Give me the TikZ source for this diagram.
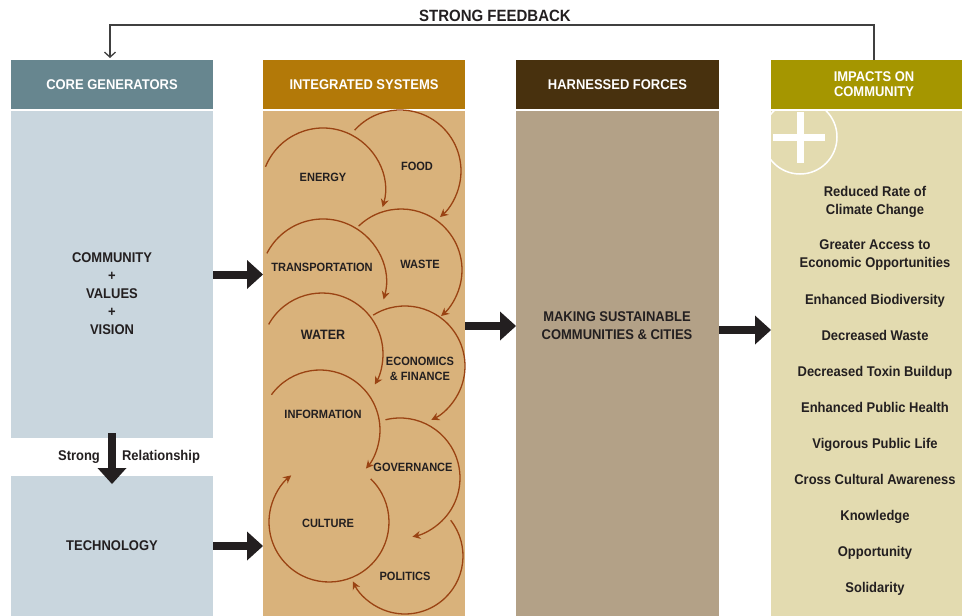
\documentclass[tikz,border=0pt]{standalone}
\usepackage{fontspec}
\setmainfont[FakeStretch=0.92]{Liberation Sans}
\usepackage{tikz}
\usetikzlibrary{arrows.meta}
\definecolor{coredark}{HTML}{67868F}
\definecolor{corelight}{HTML}{C9D6DE}
\definecolor{sysdark}{HTML}{B37908}
\definecolor{syslight}{HTML}{D9B27B}
\definecolor{forcedark}{HTML}{48310E}
\definecolor{forcelight}{HTML}{B3A187}
\definecolor{impactdark}{HTML}{A59600}
\definecolor{impactlight}{HTML}{E3DBB0}
\definecolor{inkdark}{HTML}{231F20}
\definecolor{cyclebrown}{HTML}{9A4313}
\tikzstyle{colhead}=[inner sep=0, outer sep=0, minimum height=49pt, text=white, align=center,
                     text depth=0pt, font=\bfseries\fontsize{14.1}{15}\selectfont]
\tikzstyle{colbody}=[inner sep=0, outer sep=0]
\tikzstyle{bodytext}=[inner sep=0, text=inkdark, align=center, text depth=0pt,
                      font=\bfseries\fontsize{14.1}{18}\selectfont]
\tikzstyle{cyclelabel}=[inner sep=0, text=inkdark, align=center, text depth=0pt,
                        font=\bfseries\fontsize{12}{15}\selectfont]
\tikzstyle{cyclearc}=[draw=cyclebrown, line width=1.3pt, -{Stealth[length=8pt, width=8pt]}]
\tikzstyle{blockarrow}=[draw=inkdark, line width=8pt, -{Triangle[length=16pt, width=29pt, line width=0pt]}]
\tikzstyle{feedback}=[draw=black!75, line width=1.3pt, -{Straight Barb[length=5pt, width=11pt]}]
\begin{document}
\begin{tikzpicture}[x=1pt, y=-1pt]
    \useasboundingbox (0,0) rectangle (962,616);
    \clip (0,0) rectangle (962,616);
    % column heads
    \node[colhead, fill=coredark,   minimum width=202pt] (corehead)  at (112,84.5)   {CORE GENERATORS};
    \node[colhead, fill=sysdark,    minimum width=202pt] (syshead)   at (364,84.5)   {INTEGRATED SYSTEMS};
    \node[colhead, fill=forcedark,  minimum width=203pt] (forcehead) at (617.5,84.5) {HARNESSED FORCES};
    \node[colhead, fill=impactdark, minimum width=206pt] (imphead)   at (874,84.5)   {IMPACTS ON\\COMMUNITY};
    % column bodies
    \node[colbody, fill=corelight,   minimum width=202pt, minimum height=327pt] (corebody)  at (112,274.5)   {};
    \node[colbody, fill=corelight,   minimum width=202pt, minimum height=140pt] (techbody)  at (112,546)     {};
    \node[colbody, fill=syslight,    minimum width=202pt, minimum height=505pt] (sysbody)   at (364,363.5)   {};
    \node[colbody, fill=forcelight,  minimum width=203pt, minimum height=505pt] (forcebody) at (617.5,363.5) {};
    \node[colbody, fill=impactlight, minimum width=206pt, minimum height=505pt] (impbody)   at (874,363.5)   {};
    % the plus sign
    \begin{scope}
        \clip (impbody.north west) rectangle (impbody.south east);
        \draw[white, line width=1.5pt] (800,137) circle[radius=37];
        \fill[white] (796.5,112) rectangle (803.5,163);
        \fill[white] (773,133.5) rectangle (825,140.5);
    \end{scope}
    % texts
    \node[bodytext] (cvv)     at (112,294) {COMMUNITY\\+\\VALUES\\+\\VISION};
    \node[bodytext] (tech)    at (112,546) {TECHNOLOGY};
    \node[bodytext, anchor=base] (strong)  at (79,460)  {Strong};
    \node[bodytext, anchor=base] (relship) at (161,460) {Relationship};
    \node[bodytext] (making)  at (617,326) {MAKING SUSTAINABLE\\COMMUNITIES \& CITIES};
    \node[bodytext] (imp1)  at (875,200) {Reduced Rate of\\Climate Change};
    \node[bodytext] (imp2)  at (875,254) {Greater Access to\\Economic Opportunities};
    \node[bodytext] (imp3)  at (875,299) {Enhanced Biodiversity};
    \node[bodytext] (imp4)  at (875,335) {Decreased Waste};
    \node[bodytext] (imp5)  at (875,371) {Decreased Toxin Buildup};
    \node[bodytext] (imp6)  at (875,407) {Enhanced Public Health};
    \node[bodytext] (imp7)  at (875,443) {Vigorous Public Life};
    \node[bodytext] (imp8)  at (875,479) {Cross Cultural Awareness};
    \node[bodytext] (imp9)  at (875,515) {Knowledge};
    \node[bodytext] (imp10) at (875,551) {Opportunity};
    \node[bodytext] (imp11) at (875,587) {Solidarity};
    % integrated systems cycles
    \coordinate (energyc) at (323,190);
    \coordinate (foodc)   at (400,171);
    \coordinate (transc)  at (323,282);
    \coordinate (wastec)  at (401,270);
    \coordinate (waterc)  at (322,354);
    \coordinate (econc)   at (405,366);
    \coordinate (infoc)   at (320,430);
    \coordinate (govc)    at (400,478);
    \coordinate (cultc)   at (329,522);
    \coordinate (polc)    at (405,556);
    \draw[cyclearc] (energyc) ++(-158:62) arc[start angle=-158, end angle=16,  radius=62];
    \draw[cyclearc] (foodc)   ++(-138:61) arc[start angle=-138, end angle=49,  radius=61];
    \draw[cyclearc] (transc)  ++(-153:63) arc[start angle=-153, end angle=16,  radius=63];
    \draw[cyclearc] (wastec)  ++(-134:61) arc[start angle=-134, end angle=49,  radius=61];
    \draw[cyclearc] (waterc)  ++(-151:61) arc[start angle=-151, end angle=30,  radius=61];
    \draw[cyclearc] (econc)   ++(-122:60) arc[start angle=-122, end angle=64,  radius=60];
    \draw[cyclearc] (infoc)   ++(-144:60) arc[start angle=-144, end angle=40,  radius=60];
    \draw[cyclearc] (govc)    ++(-104:60) arc[start angle=-104, end angle=78,  radius=60];
    \draw[cyclearc] (cultc)   ++(-46:60)  arc[start angle=-46,  end angle=231, radius=60];
    \draw[cyclearc] (polc)    ++(-38:58)  arc[start angle=-38,  end angle=154, radius=58];
    \node[cyclelabel] (energy) at (323,177) {ENERGY};
    \node[cyclelabel] (food)   at (417,166) {FOOD};
    \node[cyclelabel] (trans)  at (322,267) {TRANSPORTATION};
    \node[cyclelabel] (waste)  at (420,264) {WASTE};
    \node[cyclelabel, font=\bfseries\fontsize{13.6}{15}\selectfont] (water) at (323,335) {WATER};
    \node[cyclelabel] (econ)   at (420,369) {ECONOMICS\\\& FINANCE};
    \node[cyclelabel] (info)   at (323,414) {INFORMATION};
    \node[cyclelabel] (gov)    at (413,467) {GOVERNANCE};
    \node[cyclelabel] (cult)   at (328,523) {CULTURE};
    \node[cyclelabel] (pol)    at (405,576) {POLITICS};
    % arrows between the columns
    \draw[blockarrow] (corebody.east) -- (corebody.east -| sysbody.west);
    \draw[blockarrow] (techbody.east) -- (techbody.east -| sysbody.west);
    \draw[blockarrow] (sysbody.east |- making.center) -- (making.center -| forcebody.west);
    \draw[blockarrow] ([yshift=-4pt]forcebody.east |- making.center) -- ([yshift=-4pt]making.center -| impbody.west);
    \draw[blockarrow] ([yshift=5pt]corebody.south) -- ([yshift=-8pt]techbody.north);
    % feedback loop
    \node[inner sep=0, text=inkdark, text depth=0pt, font=\bfseries\fontsize{16.3}{18}\selectfont] (fbtitle) at (495,16) {STRONG FEEDBACK};
    \draw[feedback] (imphead.north) -- ++(0,-35) -| ([xshift=-2pt, yshift=2pt]corehead.north);
\end{tikzpicture}
\end{document}
